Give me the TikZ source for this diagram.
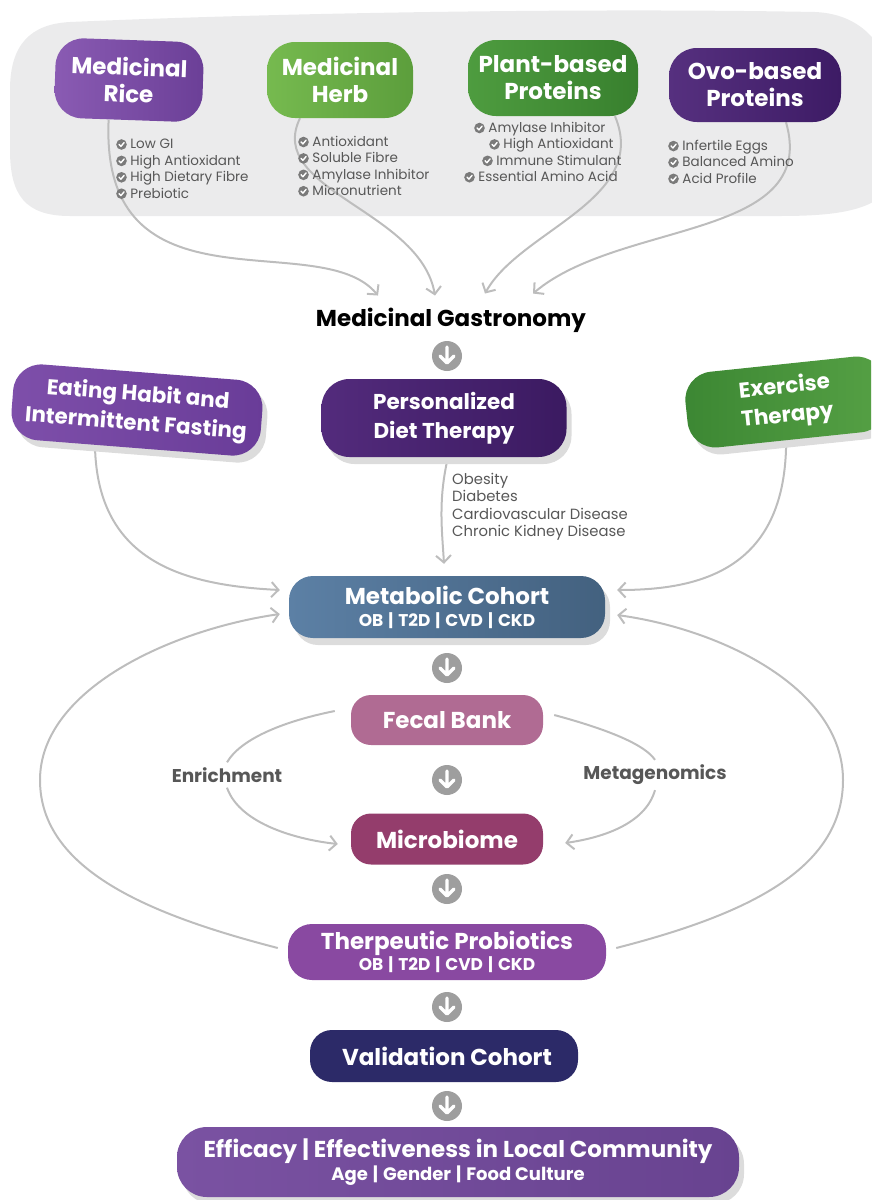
\documentclass[tikz,border=0pt]{standalone}
\usepackage{fontspec}
\setmainfont{Poppins}
\usetikzlibrary{arrows.meta,shadows,calc}
\pgfdeclarelayer{bg}
\pgfsetlayers{bg,main}
\definecolor{bggray}{HTML}{EBEBEC}
\definecolor{riceL}{HTML}{8A5BB3}\definecolor{riceR}{HTML}{6B3F97}
\definecolor{herbL}{HTML}{76BA4F}\definecolor{herbR}{HTML}{5C9E3C}
\definecolor{plantL}{HTML}{4E9C3F}\definecolor{plantR}{HTML}{38802E}
\definecolor{ovoL}{HTML}{56307F}\definecolor{ovoR}{HTML}{3D1B65}
\definecolor{eatL}{HTML}{7E4FAA}\definecolor{eatR}{HTML}{693C98}
\definecolor{persL}{HTML}{532B7C}\definecolor{persR}{HTML}{3B1A61}
\definecolor{exL}{HTML}{3C8733}\definecolor{exR}{HTML}{56A145}
\definecolor{metL}{HTML}{5C80A5}\definecolor{metR}{HTML}{43617F}
\definecolor{fecalc}{HTML}{B06B93}
\definecolor{microc}{HTML}{943D6C}
\definecolor{therac}{HTML}{8949A1}
\definecolor{validc}{HTML}{2C2A68}
\definecolor{effL}{HTML}{7A52A2}\definecolor{effR}{HTML}{684390}
\definecolor{conncol}{HTML}{BDBDBD}
\definecolor{iconcol}{HTML}{9E9E9E}
\definecolor{txtgray}{HTML}{575757}
\definecolor{chkgray}{HTML}{7A7A7A}
\definecolor{shadcol}{HTML}{DCDCDC}
\newcommand{\chk}{\tikz[baseline=-0.33em,x=1pt,y=1pt]{\fill[chkgray] (0,0) circle (5.3);\draw[white,line width=1.4pt,line cap=round,line join=round] (-2.5,0.1) -- (-0.6,-1.9) -- (2.6,1.9);}}
\newcommand{\bsep}{\hspace{5pt}|\hspace{5pt}}
\begin{document}
\begin{tikzpicture}[x=1pt,y=-1pt,
  box/.style={rounded corners=28pt, text=white, align=center, inner sep=0pt,
    font=\bfseries\fontsize{23}{27}\selectfont},
  mid/.style={font=\bfseries\fontsize{21.5}{29}\selectfont},
  shad/.style={drop shadow={fill=shadcol, opacity=1, shadow xshift=5pt, shadow yshift=-7pt}},
  bul/.style={font=\fontsize{13.5}{16.4}\selectfont, text=txtgray, align=left, inner sep=0pt, anchor=north west},
  conn/.style={draw=conncol, line width=2pt, -{Straight Barb[length=7pt,width=15pt,line width=2pt]}},
  line/.style={draw=conncol, line width=2pt},
  dicon/.style={circle, fill=iconcol, minimum size=30pt, inner sep=0pt,
    path picture={\draw[white,line width=3.4pt,line cap=round,line join=round]
      ($(path picture bounding box.center)+(0,-9)$) -- ($(path picture bounding box.center)+(0,6)$)
      ($(path picture bounding box.center)+(-7,0)$) -- ($(path picture bounding box.center)+(0,7)$) -- ($(path picture bounding box.center)+(7,0)$);}},
  lab/.style={font=\bfseries\fontsize{18.5}{20}\selectfont, text=txtgray, inner xsep=0pt, inner ysep=5pt}
]
\useasboundingbox (0,0) rectangle (871,1200);
\clip (0,0) rectangle (871,1200);

% ---- top group boxes
\node[box, minimum width=148pt, minimum height=80pt, left color=riceL, right color=riceR, rotate=-2] (rice) at (129,80) {Medicinal\\Rice};
\node[box, minimum width=146pt, minimum height=76pt, left color=herbL, right color=herbR] (herb) at (340,80) {Medicinal\\Herb};
\node[box, minimum width=170pt, minimum height=76pt, left color=plantL, right color=plantR] (plant) at (553,78) {Plant-based\\Proteins};
\node[box, minimum width=172pt, minimum height=74pt, left color=ovoL, right color=ovoR] (ovo) at (755,85) {Ovo-based\\Proteins};

\node[bul] (ricel) at (116,139) {\chk\ Low GI\\\chk\ High Antioxidant\\\chk\ High Dietary Fibre\\\chk\ Prebiotic};
\node[bul] (herbl) at (298,136) {\chk\ Antioxidant\\\chk\ Soluble Fibre\\\chk\ Amylase Inhibitor\\\chk\ Micronutrient};
\node[bul] (plantl) at (464,122) {\hspace*{10pt}\chk\ Amylase Inhibitor\\\hspace*{25pt}\chk\ High Antioxidant\\\hspace*{18pt}\chk\ Immune Stimulant\\\chk\ Essential Amino Acid};
\node[bul] (ovol) at (668,140) {\chk\ Infertile Eggs\\\chk\ Balanced Amino\\\chk\ Acid Profile};

\node[font=\bfseries\fontsize{23}{26}\selectfont, inner sep=0pt] (mg) at (451,320) {Medicinal Gastronomy};
\node[dicon] (i1) at (447,356) {};

% ---- middle row
\node[box, mid, shad, minimum width=250pt, minimum height=76pt, left color=eatL, right color=eatR, rotate=-4.5] (eat) at (137,410) {Eating Habit and\\Intermittent Fasting};
\node[box, mid, shad, minimum width=245pt, minimum height=78pt, left color=persL, right color=persR] (pers) at (444,418) {Personalized\\Diet Therapy};
\node[box, mid, shad, minimum width=200pt, minimum height=76pt, left color=exL, right color=exR, rotate=6] (ex) at (786,402) {Exercise\\Therapy};

\node[font=\fontsize{14.8}{17.5}\selectfont, text=txtgray, align=left, inner sep=0pt, anchor=north west] (dis) at (452,473) {Obesity\\Diabetes\\Cardiovascular Disease\\Chronic Kidney Disease};

\node[box, shad, rounded corners=24pt, minimum width=316pt, minimum height=62pt, left color=metL, right color=metR] (met) at (447,607) {Metabolic Cohort\\[-5pt]{\fontsize{17}{19}\selectfont OB\bsep T2D\bsep CVD\bsep CKD}};
\node[dicon] (i2) at (447,668) {};
\node[box, rounded corners=20pt, minimum width=192pt, minimum height=50pt, fill=fecalc] (fecal) at (447,720) {Fecal Bank};
\node[dicon] (i3) at (447,780) {};
\node[box, rounded corners=20pt, minimum width=192pt, minimum height=51pt, fill=microc] (micro) at (447,839) {Microbiome};
\node[dicon] (i4) at (447,889) {};
\node[lab] (enr) at (227,775) {Enrichment};
\node[lab] (mgen) at (655,775) {Metagenomics};

\node[box, rounded corners=24pt, minimum width=318pt, minimum height=56pt, fill=therac] (thera) at (447,952) {Therpeutic Probiotics\\[-6pt]{\fontsize{17}{19}\selectfont OB\bsep T2D\bsep CVD\bsep CKD}};
\node[dicon] (i5) at (447,1007) {};
\node[box, rounded corners=22pt, minimum width=268pt, minimum height=52pt, fill=validc] (valid) at (444,1056) {\hspace*{6pt}Validation Cohort};
\node[dicon] (i6) at (447,1106) {};
\node[box, shad, rounded corners=30pt, minimum width=562pt, minimum height=70pt, left color=effL, right color=effR] (eff) at (458,1162) {Efficacy\bsep Effectiveness in Local Community\\[-4pt]{\fontsize{18}{20}\selectfont Age\bsep Gender\bsep Food Culture}};

% ---- connector end points
\coordinate (t1) at ($(mg.north)+(-73,-12)$);
\coordinate (t2) at ($(mg.north)+(-16,-12)$);
\coordinate (t3) at ($(mg.north)+(34,-14)$);
\coordinate (t4) at ($(mg.north)+(82,-14)$);
\coordinate (ml1) at ($(met.west)+(-9,-17)$);
\coordinate (ml2) at ($(met.west)+(-9,7)$);
\coordinate (mr1) at ($(met.east)+(12,-17)$);
\coordinate (mr2) at ($(met.east)+(12,8)$);

\begin{pgfonlayer}{bg}
\fill[bggray] (70,22) .. controls (300,12) and (600,8) .. (815,12)
  .. controls (865,14) and (895,50) .. (895,110) -- (895,180)
  .. controls (880,210) and (840,216) .. (780,216) -- (70,216)
  .. controls (25,216) and (10,195) .. (10,150) -- (10,90)
  .. controls (10,45) and (30,24) .. (70,22) -- cycle;

\draw[conn] ($(rice.south)+(-19,0)$) .. controls (100,320) and (320,225) .. (t1);
\draw[conn] ($(herb.south)+(-40,0)$) .. controls (265,190) and (420,210) .. (t2);
\draw[conn] ($(plant.south)+(62,0)$) .. controls (650,200) and (520,230) .. (t3);
\draw[conn] ($(ovo.south)+(31,0)$) .. controls (820,240) and (620,220) .. (t4);

\draw[conn] ($(eat.center)+(-42,25)$) .. controls (92,560) and (180,585) .. (ml1);
\draw[conn] ($(ex.center)+(0,30)$) .. controls (790,570) and (700,590) .. (mr1);
\draw[conn] ($(pers.south)+(4,0)$) .. controls (438,500) and (442,530) .. ($(met.north)+(-3,-12)$);

\draw[line] ($(fecal.west)+(-16,-9)$) .. controls (280,722) and (240,740) .. (enr.north);
\draw[conn] (enr.south) .. controls (240,825) and (300,840) .. ($(micro.west)+(-13,5)$);
\draw[line] ($(fecal.east)+(11,-5)$) .. controls (610,730) and (645,745) .. (mgen.north);
\draw[conn] (mgen.south) .. controls (645,825) and (600,838) .. ($(micro.east)+(22,4)$);

\draw[conn] ($(thera.west)+(-10,-4)$) .. controls (150,915) and (40,870) .. (40,780)
   .. controls (40,690) and (170,630) .. (ml2);
\draw[conn] ($(thera.east)+(10,-4)$) .. controls (745,915) and (843,870) .. (843,780)
   .. controls (843,690) and (725,630) .. (mr2);
\end{pgfonlayer}
\end{tikzpicture}
\end{document}
